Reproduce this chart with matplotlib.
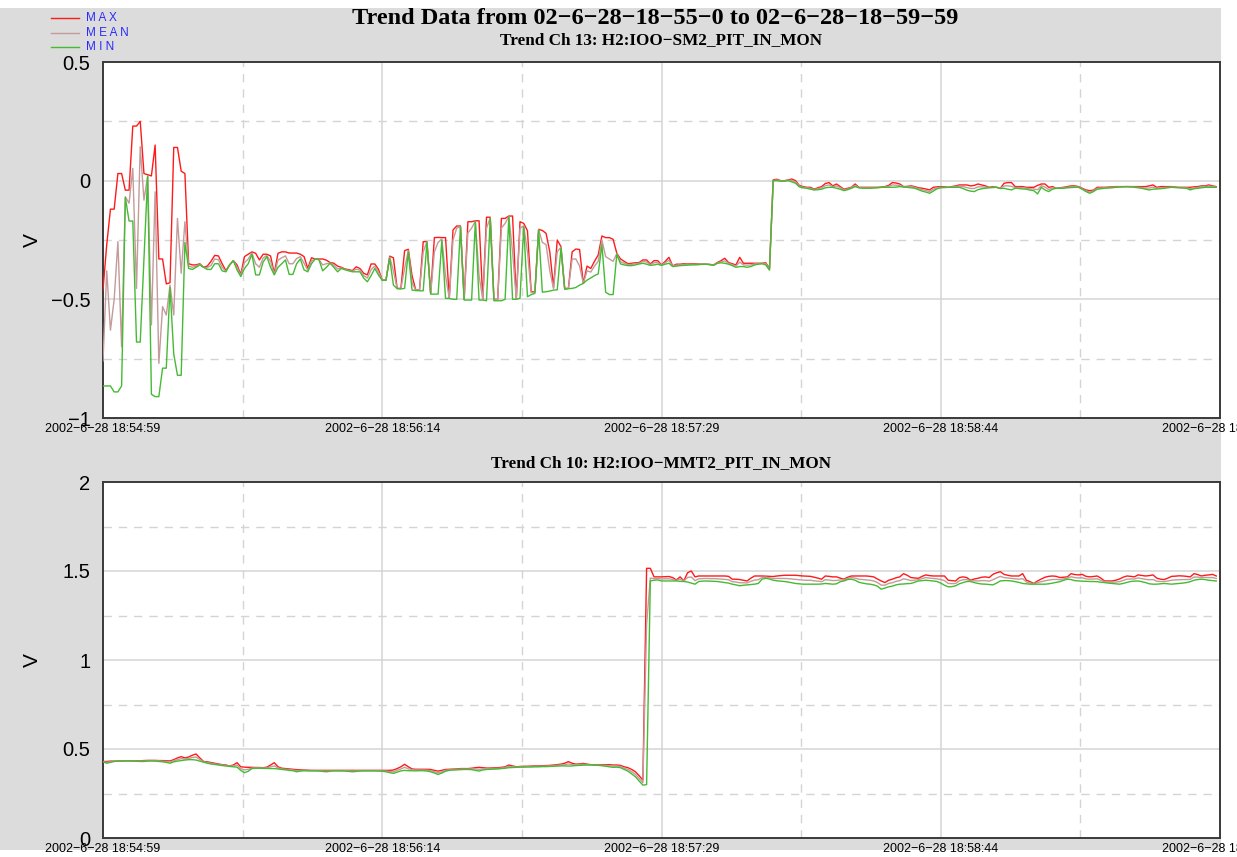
import numpy as np
import matplotlib
matplotlib.use("Agg")
import matplotlib.pyplot as plt
from matplotlib.patches import Rectangle
from matplotlib.lines import Line2D
from matplotlib.ticker import MultipleLocator, FixedLocator, FuncFormatter

plt.rcParams['font.family'] = ['Liberation Sans', 'DejaVu Sans']

# ---- data: one sample per second, 300 s ----
title_text = "Trend Data from 02\u22126\u221228\u221218\u221255\u22120 to 02\u22126\u221228\u221218\u221259\u221259"
channel_names = ["Trend Ch 13: H2:IOO\u2212SM2_PIT_IN_MON",
                 "Trend Ch 10: H2:IOO\u2212MMT2_PIT_IN_MON"]
series_names = ["MAX", "MEAN", "MIN"]
time_ticks = [0, 75, 150, 225, 300]
time_labels = ["2002\u22126\u221228 18:54:59", "2002\u22126\u221228 18:56:14",
               "2002\u22126\u221228 18:57:29", "2002\u22126\u221228 18:58:44",
               "2002\u22126\u221228 18:59:59"]

sm2_max = [
    -0.46, -0.27, -0.12, -0.12, 0.03, 0.03, -0.04, -0.04, 0.23, 0.23,
    0.25, 0.03, 0.025, 0.02, 0.15, -0.33, -0.33, -0.435, -0.43, 0.14,
    0.14, 0.04, 0.03, -0.35, -0.355, -0.355, -0.35, -0.365, -0.36, -0.34,
    -0.315, -0.317, -0.35, -0.379, -0.355, -0.337, -0.355, -0.395, -0.32, -0.31,
    -0.30, -0.306, -0.334, -0.31, -0.31, -0.317, -0.39, -0.306, -0.30, -0.30,
    -0.305, -0.305, -0.305, -0.31, -0.32, -0.37, -0.325, -0.33, -0.33, -0.33,
    -0.335, -0.345, -0.348, -0.36, -0.365, -0.372, -0.375, -0.379, -0.363, -0.37,
    -0.39, -0.397, -0.351, -0.351, -0.374, -0.419, -0.419, -0.318, -0.325, -0.454,
    -0.454, -0.295, -0.289, -0.40, -0.461, -0.461, -0.257, -0.257, -0.475, -0.24,
    -0.239, -0.24, -0.24, -0.496, -0.208, -0.191, -0.191, -0.50, -0.173, -0.173,
    -0.169, -0.169, -0.50, -0.154, -0.154, -0.50, -0.50, -0.159, -0.159, -0.149,
    -0.149, -0.50, -0.173, -0.18, -0.211, -0.468, -0.468, -0.205, -0.21, -0.222,
    -0.30, -0.45, -0.25, -0.278, -0.454, -0.454, -0.30, -0.288, -0.29, -0.433,
    -0.36, -0.37, -0.34, -0.313, -0.233, -0.24, -0.24, -0.247, -0.306, -0.33,
    -0.34, -0.35, -0.348, -0.346, -0.345, -0.334, -0.334, -0.351, -0.337, -0.337,
    -0.355, -0.34, -0.323, -0.359, -0.352, -0.352, -0.35, -0.351, -0.35, -0.35,
    -0.351, -0.352, -0.352, -0.353, -0.355, -0.345, -0.337, -0.327, -0.345, -0.35,
    -0.355, -0.323, -0.348, -0.348, -0.348, -0.348, -0.348, -0.348, -0.346, -0.37,
    0.003, 0.006, 0.0, 0.0, 0.003, 0.007, 0.0, -0.02, -0.025, -0.028,
    -0.028, -0.036, -0.03, -0.025, -0.012, -0.008, -0.022, -0.014, -0.025, -0.036,
    -0.032, -0.028, -0.014, -0.028, -0.028, -0.028, -0.028, -0.028, -0.028, -0.027,
    -0.025, -0.02, -0.008, -0.01, -0.014, -0.025, -0.024, -0.022, -0.025, -0.03,
    -0.032, -0.035, -0.039, -0.028, -0.026, -0.025, -0.026, -0.028, -0.025, -0.022,
    -0.018, -0.018, -0.018, -0.022, -0.02, -0.014, -0.018, -0.022, -0.028, -0.025,
    -0.028, -0.032, -0.011, -0.008, -0.008, -0.025, -0.025, -0.025, -0.028, -0.028,
    -0.028, -0.02, -0.014, -0.014, -0.028, -0.025, -0.032, -0.03, -0.028, -0.025,
    -0.022, -0.022, -0.025, -0.032, -0.039, -0.042, -0.04, -0.028, -0.028, -0.028,
    -0.027, -0.026, -0.025, -0.025, -0.025, -0.025, -0.025, -0.025, -0.025, -0.025,
    -0.025, -0.022, -0.018, -0.028, -0.025, -0.025, -0.025, -0.025, -0.027, -0.028,
    -0.028, -0.028, -0.028, -0.026, -0.025, -0.022, -0.022, -0.018, -0.022, -0.025,
]

sm2_mean = [
    -0.76, -0.38, -0.63, -0.50, -0.257, -0.70, -0.068, -0.095, 0.052, -0.454,
    0.143, -0.082, 0.02, -0.608, -0.047, -0.77, -0.531, -0.566, -0.44, -0.566,
    -0.159, -0.39, -0.173, -0.36, -0.365, -0.36, -0.352, -0.365, -0.367, -0.357,
    -0.33, -0.333, -0.365, -0.382, -0.355, -0.337, -0.365, -0.40, -0.345, -0.33,
    -0.305, -0.35, -0.365, -0.326, -0.315, -0.34, -0.394, -0.335, -0.325, -0.317,
    -0.35, -0.35, -0.328, -0.32, -0.348, -0.377, -0.338, -0.33, -0.332, -0.355,
    -0.35, -0.347, -0.356, -0.372, -0.368, -0.374, -0.378, -0.382, -0.373, -0.377,
    -0.40, -0.41, -0.375, -0.36, -0.386, -0.419, -0.419, -0.322, -0.38, -0.454,
    -0.455, -0.37, -0.295, -0.43, -0.462, -0.462, -0.30, -0.257, -0.476, -0.30,
    -0.26, -0.245, -0.40, -0.496, -0.25, -0.20, -0.193, -0.50, -0.22, -0.20,
    -0.171, -0.40, -0.50, -0.20, -0.157, -0.503, -0.50, -0.20, -0.18, -0.151,
    -0.30, -0.50, -0.20, -0.19, -0.30, -0.472, -0.47, -0.207, -0.26, -0.27,
    -0.38, -0.455, -0.30, -0.28, -0.456, -0.454, -0.33, -0.33, -0.36, -0.433,
    -0.38, -0.385, -0.36, -0.34, -0.25, -0.32, -0.33, -0.34, -0.307, -0.342,
    -0.348, -0.354, -0.353, -0.35, -0.348, -0.34, -0.343, -0.354, -0.346, -0.345,
    -0.356, -0.346, -0.335, -0.36, -0.356, -0.355, -0.353, -0.353, -0.352, -0.352,
    -0.352, -0.352, -0.352, -0.353, -0.356, -0.347, -0.342, -0.338, -0.348, -0.354,
    -0.36, -0.343, -0.355, -0.356, -0.355, -0.351, -0.35, -0.349, -0.35, -0.373,
    0.0, 0.003, -0.001, -0.001, 0.002, 0.001, -0.006, -0.023, -0.028, -0.03,
    -0.032, -0.038, -0.034, -0.03, -0.021, -0.018, -0.025, -0.023, -0.03, -0.039,
    -0.035, -0.03, -0.02, -0.029, -0.03, -0.03, -0.03, -0.03, -0.029, -0.028,
    -0.027, -0.024, -0.018, -0.019, -0.02, -0.026, -0.026, -0.026, -0.028, -0.034,
    -0.038, -0.041, -0.046, -0.036, -0.03, -0.028, -0.028, -0.028, -0.027, -0.025,
    -0.023, -0.025, -0.029, -0.033, -0.033, -0.026, -0.026, -0.027, -0.029, -0.027,
    -0.028, -0.032, -0.022, -0.022, -0.024, -0.029, -0.029, -0.03, -0.032, -0.034,
    -0.035, -0.038, -0.021, -0.027, -0.037, -0.031, -0.032, -0.031, -0.03, -0.028,
    -0.026, -0.025, -0.027, -0.034, -0.043, -0.048, -0.043, -0.032, -0.031, -0.03,
    -0.029, -0.028, -0.027, -0.026, -0.026, -0.025, -0.026, -0.027, -0.028, -0.029,
    -0.031, -0.031, -0.027, -0.032, -0.03, -0.029, -0.028, -0.027, -0.028, -0.029,
    -0.03, -0.03, -0.034, -0.03, -0.029, -0.026, -0.025, -0.023, -0.025, -0.027,
]

sm2_min = [
    -0.865, -0.865, -0.865, -0.89, -0.89, -0.865, -0.07, -0.17, -0.17, -0.68,
    -0.68, -0.33, 0.02, -0.90, -0.91, -0.91, -0.79, -0.79, -0.45, -0.73,
    -0.82, -0.82, -0.26, -0.37, -0.374, -0.365, -0.355, -0.365, -0.374, -0.374,
    -0.35, -0.35, -0.38, -0.384, -0.355, -0.337, -0.376, -0.404, -0.37, -0.35,
    -0.31, -0.397, -0.397, -0.343, -0.32, -0.365, -0.397, -0.365, -0.35, -0.334,
    -0.395, -0.395, -0.35, -0.33, -0.376, -0.384, -0.35, -0.33, -0.333, -0.38,
    -0.365, -0.348, -0.365, -0.384, -0.37, -0.375, -0.38, -0.384, -0.384, -0.384,
    -0.41, -0.426, -0.40, -0.37, -0.398, -0.42, -0.42, -0.327, -0.44, -0.455,
    -0.456, -0.454, -0.30, -0.461, -0.463, -0.464, -0.464, -0.26, -0.478, -0.478,
    -0.478, -0.253, -0.496, -0.496, -0.50, -0.50, -0.194, -0.503, -0.503, -0.503,
    -0.173, -0.503, -0.503, -0.506, -0.159, -0.506, -0.506, -0.506, -0.50, -0.152,
    -0.50, -0.50, -0.495, -0.194, -0.489, -0.48, -0.475, -0.208, -0.47, -0.468,
    -0.465, -0.461, -0.46, -0.285, -0.458, -0.455, -0.454, -0.45, -0.44, -0.433,
    -0.419, -0.41, -0.40, -0.393, -0.27, -0.47, -0.48, -0.48, -0.31, -0.351,
    -0.355, -0.358, -0.358, -0.355, -0.351, -0.348, -0.352, -0.357, -0.355, -0.352,
    -0.357, -0.352, -0.348, -0.362, -0.36, -0.358, -0.357, -0.356, -0.355, -0.355,
    -0.354, -0.352, -0.352, -0.354, -0.357, -0.348, -0.346, -0.348, -0.352, -0.358,
    -0.365, -0.362, -0.362, -0.365, -0.362, -0.355, -0.352, -0.35, -0.355, -0.377,
    0.0, 0.0, -0.002, -0.002, 0.0, -0.005, -0.011, -0.026, -0.03, -0.032,
    -0.036, -0.039, -0.038, -0.036, -0.03, -0.028, -0.028, -0.032, -0.036, -0.042,
    -0.038, -0.032, -0.025, -0.03, -0.032, -0.032, -0.032, -0.031, -0.03, -0.028,
    -0.028, -0.028, -0.028, -0.027, -0.025, -0.027, -0.028, -0.03, -0.032, -0.038,
    -0.044, -0.048, -0.053, -0.044, -0.034, -0.03, -0.029, -0.028, -0.028, -0.028,
    -0.028, -0.033, -0.04, -0.044, -0.046, -0.038, -0.034, -0.032, -0.03, -0.029,
    -0.028, -0.033, -0.032, -0.036, -0.039, -0.032, -0.033, -0.035, -0.036, -0.04,
    -0.042, -0.056, -0.028, -0.039, -0.046, -0.036, -0.032, -0.032, -0.032, -0.03,
    -0.029, -0.028, -0.028, -0.036, -0.046, -0.053, -0.046, -0.036, -0.034, -0.032,
    -0.031, -0.03, -0.028, -0.027, -0.026, -0.025, -0.026, -0.028, -0.03, -0.032,
    -0.036, -0.039, -0.036, -0.035, -0.034, -0.032, -0.03, -0.028, -0.029, -0.03,
    -0.031, -0.032, -0.039, -0.034, -0.032, -0.03, -0.028, -0.028, -0.028, -0.028,
]

mmt2_max = [
    0.43, 0.43, 0.432, 0.432, 0.433, 0.433, 0.434, 0.434, 0.434, 0.434,
    0.434, 0.435, 0.436, 0.436, 0.436, 0.435, 0.435, 0.434, 0.433, 0.44,
    0.45, 0.457, 0.45, 0.455, 0.465, 0.472, 0.45, 0.43, 0.428, 0.424,
    0.42, 0.416, 0.412, 0.41, 0.405, 0.41, 0.423, 0.40, 0.398, 0.397,
    0.397, 0.396, 0.396, 0.395, 0.398, 0.41, 0.423, 0.40, 0.392, 0.39,
    0.388, 0.386, 0.384, 0.383, 0.382, 0.381, 0.38, 0.38, 0.38, 0.38,
    0.38, 0.38, 0.38, 0.38, 0.38, 0.38, 0.38, 0.38, 0.38, 0.38,
    0.38, 0.38, 0.38, 0.38, 0.38, 0.38, 0.38, 0.38, 0.382, 0.39,
    0.40, 0.414, 0.40, 0.388, 0.386, 0.386, 0.386, 0.386, 0.385, 0.38,
    0.376, 0.38, 0.385, 0.386, 0.387, 0.388, 0.39, 0.39, 0.39, 0.392,
    0.395, 0.397, 0.395, 0.393, 0.393, 0.394, 0.395, 0.397, 0.40, 0.41,
    0.405, 0.40, 0.402, 0.403, 0.403, 0.404, 0.405, 0.405, 0.406, 0.407,
    0.408, 0.41, 0.412, 0.415, 0.42, 0.429, 0.42, 0.415, 0.416, 0.419,
    0.415, 0.412, 0.412, 0.412, 0.412, 0.412, 0.412, 0.41, 0.41, 0.408,
    0.40, 0.395, 0.385, 0.372, 0.35, 0.325, 1.515, 1.515, 1.467, 1.467,
    1.467, 1.468, 1.469, 1.463, 1.45, 1.467, 1.444, 1.49, 1.50, 1.467,
    1.472, 1.472, 1.472, 1.472, 1.472, 1.472, 1.472, 1.472, 1.47, 1.454,
    1.454, 1.452, 1.448, 1.444, 1.46, 1.472, 1.472, 1.472, 1.471, 1.47,
    1.469, 1.472, 1.474, 1.476, 1.476, 1.476, 1.476, 1.474, 1.472, 1.471,
    1.47, 1.465, 1.46, 1.454, 1.472, 1.47, 1.467, 1.467, 1.46, 1.454,
    1.465, 1.472, 1.472, 1.472, 1.472, 1.472, 1.47, 1.467, 1.455, 1.444,
    1.435, 1.448, 1.454, 1.462, 1.467, 1.485, 1.476, 1.463, 1.461, 1.459,
    1.47, 1.478, 1.474, 1.472, 1.472, 1.472, 1.472, 1.448, 1.446, 1.444,
    1.463, 1.467, 1.463, 1.448, 1.455, 1.459, 1.465, 1.467, 1.463, 1.481,
    1.49, 1.496, 1.481, 1.476, 1.472, 1.472, 1.472, 1.485, 1.448, 1.44,
    1.43, 1.444, 1.455, 1.465, 1.47, 1.472, 1.47, 1.463, 1.465, 1.467,
    1.485, 1.48, 1.478, 1.481, 1.47, 1.467, 1.469, 1.472, 1.46, 1.444,
    1.444, 1.444, 1.448, 1.455, 1.465, 1.472, 1.47, 1.467, 1.478, 1.475,
    1.472, 1.474, 1.478, 1.46, 1.454, 1.452, 1.46, 1.47, 1.471, 1.473,
    1.472, 1.47, 1.467, 1.485, 1.48, 1.472, 1.476, 1.478, 1.481, 1.472,
]

mmt2_mean = [
    0.429, 0.425, 0.428, 0.431, 0.432, 0.432, 0.433, 0.433, 0.433, 0.432,
    0.432, 0.432, 0.434, 0.434, 0.434, 0.433, 0.431, 0.43, 0.427, 0.434,
    0.44, 0.446, 0.444, 0.447, 0.452, 0.455, 0.441, 0.428, 0.424, 0.42,
    0.416, 0.413, 0.41, 0.407, 0.404, 0.405, 0.41, 0.39, 0.383, 0.386,
    0.393, 0.394, 0.394, 0.393, 0.394, 0.40, 0.405, 0.394, 0.388, 0.386,
    0.384, 0.382, 0.378, 0.379, 0.38, 0.379, 0.378, 0.378, 0.378, 0.377,
    0.376, 0.377, 0.378, 0.378, 0.378, 0.378, 0.377, 0.376, 0.377, 0.378,
    0.378, 0.378, 0.378, 0.378, 0.378, 0.377, 0.376, 0.373, 0.372, 0.38,
    0.388, 0.397, 0.389, 0.383, 0.382, 0.382, 0.382, 0.381, 0.378, 0.372,
    0.366, 0.372, 0.38, 0.383, 0.384, 0.385, 0.387, 0.387, 0.387, 0.388,
    0.388, 0.386, 0.388, 0.389, 0.389, 0.39, 0.391, 0.393, 0.396, 0.402,
    0.40, 0.398, 0.40, 0.40, 0.401, 0.401, 0.402, 0.402, 0.403, 0.404,
    0.405, 0.406, 0.408, 0.41, 0.412, 0.416, 0.412, 0.411, 0.412, 0.414,
    0.412, 0.411, 0.41, 0.41, 0.409, 0.408, 0.406, 0.404, 0.404, 0.402,
    0.392, 0.385, 0.372, 0.358, 0.335, 0.31, 1.2, 1.46, 1.457, 1.458,
    1.455, 1.456, 1.456, 1.453, 1.447, 1.455, 1.443, 1.464, 1.466, 1.446,
    1.456, 1.457, 1.458, 1.457, 1.457, 1.456, 1.455, 1.453, 1.451, 1.44,
    1.438, 1.434, 1.434, 1.433, 1.442, 1.449, 1.451, 1.463, 1.465, 1.462,
    1.458, 1.458, 1.458, 1.458, 1.457, 1.455, 1.453, 1.451, 1.449, 1.448,
    1.448, 1.445, 1.443, 1.44, 1.451, 1.449, 1.446, 1.447, 1.45, 1.449,
    1.458, 1.463, 1.46, 1.454, 1.452, 1.45, 1.448, 1.444, 1.435, 1.421,
    1.42, 1.43, 1.434, 1.442, 1.446, 1.456, 1.452, 1.446, 1.449, 1.451,
    1.458, 1.463, 1.46, 1.458, 1.456, 1.452, 1.446, 1.43, 1.429, 1.43,
    1.445, 1.451, 1.452, 1.444, 1.445, 1.444, 1.446, 1.446, 1.443, 1.451,
    1.461, 1.47, 1.463, 1.461, 1.458, 1.456, 1.454, 1.457, 1.438, 1.433,
    1.428, 1.435, 1.44, 1.445, 1.449, 1.452, 1.453, 1.451, 1.456, 1.46,
    1.468, 1.463, 1.461, 1.462, 1.456, 1.454, 1.455, 1.456, 1.448, 1.44,
    1.438, 1.437, 1.438, 1.44, 1.447, 1.454, 1.455, 1.455, 1.461, 1.457,
    1.453, 1.451, 1.452, 1.443, 1.441, 1.441, 1.444, 1.448, 1.45, 1.451,
    1.452, 1.452, 1.453, 1.466, 1.466, 1.463, 1.464, 1.463, 1.463, 1.458,
]

mmt2_min = [
    0.428, 0.42, 0.425, 0.43, 0.432, 0.432, 0.433, 0.433, 0.432, 0.431,
    0.43, 0.43, 0.432, 0.433, 0.432, 0.43, 0.428, 0.425, 0.42, 0.428,
    0.432, 0.435, 0.438, 0.44, 0.44, 0.438, 0.432, 0.426, 0.42, 0.416,
    0.413, 0.41, 0.407, 0.405, 0.402, 0.40, 0.398, 0.38, 0.367, 0.375,
    0.39, 0.392, 0.392, 0.391, 0.391, 0.39, 0.39, 0.388, 0.385, 0.383,
    0.38, 0.378, 0.372, 0.376, 0.378, 0.377, 0.377, 0.377, 0.376, 0.374,
    0.372, 0.375, 0.377, 0.377, 0.377, 0.376, 0.374, 0.372, 0.374, 0.376,
    0.377, 0.377, 0.377, 0.377, 0.376, 0.375, 0.372, 0.367, 0.363, 0.37,
    0.377, 0.38, 0.378, 0.378, 0.377, 0.378, 0.378, 0.376, 0.372, 0.365,
    0.357, 0.365, 0.375, 0.38, 0.382, 0.383, 0.384, 0.385, 0.385, 0.384,
    0.38, 0.376, 0.382, 0.385, 0.386, 0.387, 0.388, 0.39, 0.392, 0.395,
    0.396, 0.397, 0.398, 0.398, 0.399, 0.399, 0.40, 0.40, 0.401, 0.401,
    0.402, 0.403, 0.404, 0.405, 0.405, 0.404, 0.405, 0.407, 0.408, 0.409,
    0.41, 0.41, 0.409, 0.408, 0.406, 0.403, 0.40, 0.397, 0.398, 0.395,
    0.385, 0.375, 0.36, 0.344, 0.32, 0.297, 0.30, 1.444, 1.448, 1.45,
    1.444, 1.444, 1.444, 1.444, 1.444, 1.442, 1.441, 1.438, 1.432, 1.426,
    1.441, 1.443, 1.444, 1.443, 1.442, 1.441, 1.438, 1.435, 1.432, 1.426,
    1.422, 1.417, 1.42, 1.422, 1.424, 1.426, 1.43, 1.454, 1.459, 1.455,
    1.448, 1.445, 1.443, 1.441, 1.438, 1.434, 1.43, 1.428, 1.426, 1.426,
    1.426, 1.426, 1.426, 1.427, 1.43, 1.428, 1.426, 1.428, 1.44, 1.444,
    1.452, 1.454, 1.448, 1.437, 1.432, 1.428, 1.426, 1.422, 1.415, 1.398,
    1.404, 1.411, 1.415, 1.422, 1.426, 1.427, 1.429, 1.43, 1.437, 1.444,
    1.446, 1.448, 1.446, 1.444, 1.441, 1.432, 1.42, 1.411, 1.412, 1.417,
    1.428, 1.435, 1.441, 1.441, 1.435, 1.43, 1.427, 1.426, 1.424, 1.422,
    1.432, 1.444, 1.446, 1.446, 1.444, 1.44, 1.436, 1.43, 1.428, 1.426,
    1.426, 1.426, 1.426, 1.426, 1.428, 1.432, 1.436, 1.44, 1.448, 1.454,
    1.452, 1.446, 1.444, 1.443, 1.442, 1.441, 1.441, 1.44, 1.437, 1.435,
    1.432, 1.43, 1.428, 1.426, 1.43, 1.436, 1.441, 1.443, 1.444, 1.44,
    1.435, 1.428, 1.426, 1.426, 1.428, 1.43, 1.428, 1.426, 1.428, 1.43,
    1.432, 1.435, 1.44, 1.448, 1.452, 1.454, 1.452, 1.448, 1.446, 1.444,
]

# ---- figure layout (pixel based) ----
W, H = 1237, 857
fig = plt.figure(figsize=(W / 100, H / 100), dpi=100, facecolor="white")
fig.patches.append(Rectangle((0, 1 - 850 / H), 1221 / W, (850 - 8) / H,
                             transform=fig.transFigure, facecolor="#dcdcdc",
                             edgecolor="none", zorder=-10))

colors = {"MAX": "#ff1a1a", "MEAN": "#c49a9a", "MIN": "#44bb33"}
grid_c = "#d4d4d4"


def make_axes(top_px, bottom_px):
    return fig.add_axes([103 / W, 1 - bottom_px / H, (1220 - 103) / W,
                         (bottom_px - top_px) / H])


def style_axes(ax, ylim, yticks, ystep_minor):
    ax.set_facecolor("white")
    ax.set_xlim(time_ticks[0], time_ticks[-1])
    ax.set_ylim(*ylim)
    ax.xaxis.set_major_locator(FixedLocator(time_ticks))
    ax.xaxis.set_minor_locator(MultipleLocator(37.5))
    ax.set_xticklabels(time_labels, fontsize=9)
    ax.yaxis.set_major_locator(FixedLocator(yticks))
    ax.yaxis.set_minor_locator(MultipleLocator(ystep_minor))
    ax.yaxis.set_major_formatter(
        FuncFormatter(lambda v, p: ("%g" % v).replace("-", "\u2212")))
    ax.tick_params(axis="both", which="both", length=0)
    ax.tick_params(axis="y", labelsize=14.5, pad=9)
    ax.tick_params(axis="x", pad=3.5)
    ax.grid(which="major", color=grid_c, linewidth=1.1, linestyle="-")
    ax.grid(which="minor", color=grid_c, linewidth=1.0, linestyle=(0, (6, 5)))
    ax.set_axisbelow(True)
    for s in ax.spines.values():
        s.set_color("#3a3a3a")
        s.set_linewidth(1.4)
    ax.set_ylabel("V", fontsize=15)
    ax.yaxis.set_label_coords(-0.055, 0.5)


panels = [
    (62, 418, (-1, 0.5), [-1, -0.5, 0, 0.5], 0.25, (sm2_max, sm2_mean, sm2_min)),
    (482, 838, (0, 2), [0, 0.5, 1, 1.5, 2], 0.25, (mmt2_max, mmt2_mean, mmt2_min)),
]

for top_px, bottom_px, ylim, yticks, ym, series in panels:
    ax = make_axes(top_px, bottom_px)
    style_axes(ax, ylim, yticks, ym)
    t = np.arange(len(series[0]))
    for name, vals in zip(series_names, series):
        ax.plot(t, vals, color=colors[name], linewidth=1.0, zorder=3)

# ---- titles ----
fig.text(655 / W, 1 - 18 / H, title_text, ha="center", va="center",
         fontsize=17.5, fontweight="bold", family="Liberation Serif")
fig.text(661 / W, 1 - 40 / H, channel_names[0], ha="center", va="center",
         fontsize=12.3, fontweight="bold", family="Liberation Serif")
fig.text(661 / W, 1 - 463 / H, channel_names[1], ha="center", va="center",
         fontsize=12.3, fontweight="bold", family="Liberation Serif")

# ---- legend in the top-left corner ----
for k, name in enumerate(series_names):
    y = 1 - (18 + 14.5 * k) / H
    fig.add_artist(Line2D([51 / W, 79 / W], [y, y], transform=fig.transFigure,
                          color=colors[name], linewidth=1.0))
    fig.text(86 / W, y, " ".join(name), ha="left", va="center",
             fontsize=8.5, color="#2b2bff")

fig.savefig("out.png", dpi=100, facecolor=fig.get_facecolor())
